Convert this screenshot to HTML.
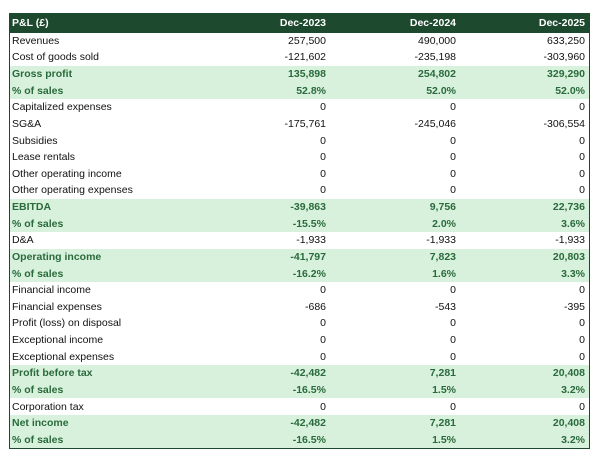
<!DOCTYPE html>
<html><head><style>
body{margin:0;width:600px;height:458px;background:#fff;font-family:"Liberation Sans",sans-serif;}
.t{position:absolute;left:9px;top:13px;width:579px;border:1.5px solid #1d4a2e;border-top:none;}
.r{height:16.64px;display:flex;align-items:center;font-size:10.5px;color:#111;}
.r div{flex-shrink:0}
.h{height:19.5px;background:#1d4a2e;color:#fff;font-weight:bold;font-size:10.5px;}
.g{background:#d8f1dc;color:#2a6a3c;font-weight:bold;}
.c0{width:2px}.l{width:180px}
.v{text-align:right;box-sizing:border-box}
.a{width:134px}.b{width:130px}.d{width:129px}
</style></head><body>
<div class="t">
<div class="r h"><div class="c0"></div><div class="l">P&amp;L (£)</div><div class="v a">Dec-2023</div><div class="v b">Dec-2024</div><div class="v d">Dec-2025</div></div>
<div class="r"><div class="c0"></div><div class="l">Revenues</div><div class="v a">257,500</div><div class="v b">490,000</div><div class="v d">633,250</div></div>
<div class="r"><div class="c0"></div><div class="l">Cost of goods sold</div><div class="v a">-121,602</div><div class="v b">-235,198</div><div class="v d">-303,960</div></div>
<div class="r g"><div class="c0"></div><div class="l">Gross profit</div><div class="v a">135,898</div><div class="v b">254,802</div><div class="v d">329,290</div></div>
<div class="r g"><div class="c0"></div><div class="l">% of sales</div><div class="v a">52.8%</div><div class="v b">52.0%</div><div class="v d">52.0%</div></div>
<div class="r"><div class="c0"></div><div class="l">Capitalized expenses</div><div class="v a">0</div><div class="v b">0</div><div class="v d">0</div></div>
<div class="r"><div class="c0"></div><div class="l">SG&amp;A</div><div class="v a">-175,761</div><div class="v b">-245,046</div><div class="v d">-306,554</div></div>
<div class="r"><div class="c0"></div><div class="l">Subsidies</div><div class="v a">0</div><div class="v b">0</div><div class="v d">0</div></div>
<div class="r"><div class="c0"></div><div class="l">Lease rentals</div><div class="v a">0</div><div class="v b">0</div><div class="v d">0</div></div>
<div class="r"><div class="c0"></div><div class="l">Other operating income</div><div class="v a">0</div><div class="v b">0</div><div class="v d">0</div></div>
<div class="r"><div class="c0"></div><div class="l">Other operating expenses</div><div class="v a">0</div><div class="v b">0</div><div class="v d">0</div></div>
<div class="r g"><div class="c0"></div><div class="l">EBITDA</div><div class="v a">-39,863</div><div class="v b">9,756</div><div class="v d">22,736</div></div>
<div class="r g"><div class="c0"></div><div class="l">% of sales</div><div class="v a">-15.5%</div><div class="v b">2.0%</div><div class="v d">3.6%</div></div>
<div class="r"><div class="c0"></div><div class="l">D&amp;A</div><div class="v a">-1,933</div><div class="v b">-1,933</div><div class="v d">-1,933</div></div>
<div class="r g"><div class="c0"></div><div class="l">Operating income</div><div class="v a">-41,797</div><div class="v b">7,823</div><div class="v d">20,803</div></div>
<div class="r g"><div class="c0"></div><div class="l">% of sales</div><div class="v a">-16.2%</div><div class="v b">1.6%</div><div class="v d">3.3%</div></div>
<div class="r"><div class="c0"></div><div class="l">Financial income</div><div class="v a">0</div><div class="v b">0</div><div class="v d">0</div></div>
<div class="r"><div class="c0"></div><div class="l">Financial expenses</div><div class="v a">-686</div><div class="v b">-543</div><div class="v d">-395</div></div>
<div class="r"><div class="c0"></div><div class="l">Profit (loss) on disposal</div><div class="v a">0</div><div class="v b">0</div><div class="v d">0</div></div>
<div class="r"><div class="c0"></div><div class="l">Exceptional income</div><div class="v a">0</div><div class="v b">0</div><div class="v d">0</div></div>
<div class="r"><div class="c0"></div><div class="l">Exceptional expenses</div><div class="v a">0</div><div class="v b">0</div><div class="v d">0</div></div>
<div class="r g"><div class="c0"></div><div class="l">Profit before tax</div><div class="v a">-42,482</div><div class="v b">7,281</div><div class="v d">20,408</div></div>
<div class="r g"><div class="c0"></div><div class="l">% of sales</div><div class="v a">-16.5%</div><div class="v b">1.5%</div><div class="v d">3.2%</div></div>
<div class="r"><div class="c0"></div><div class="l">Corporation tax</div><div class="v a">0</div><div class="v b">0</div><div class="v d">0</div></div>
<div class="r g"><div class="c0"></div><div class="l">Net income</div><div class="v a">-42,482</div><div class="v b">7,281</div><div class="v d">20,408</div></div>
<div class="r g"><div class="c0"></div><div class="l">% of sales</div><div class="v a">-16.5%</div><div class="v b">1.5%</div><div class="v d">3.2%</div></div>
</div>
</body></html>
